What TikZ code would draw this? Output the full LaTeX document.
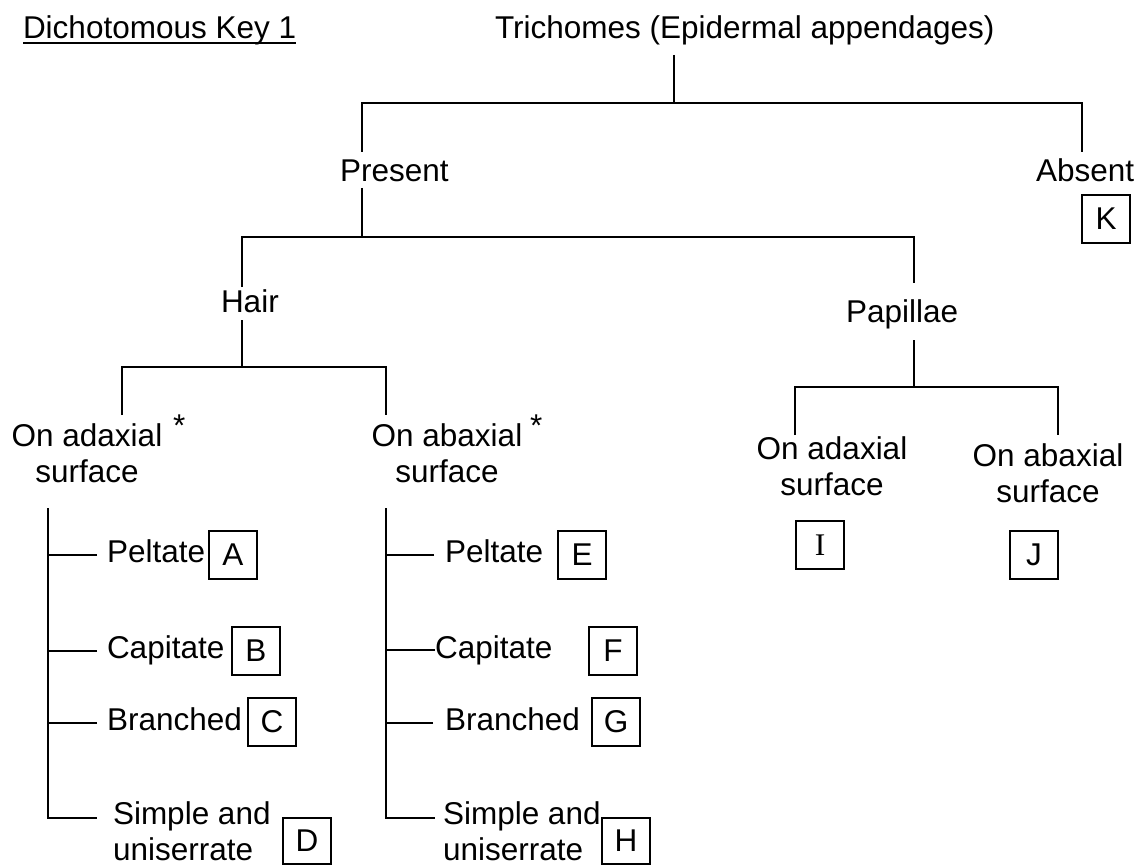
\documentclass[tikz,border=0pt]{standalone}
\usepackage{fontspec}
\setmainfont{Liberation Sans}
\newfontfamily\romankey{Liberation Serif}
\newcommand\keyfont{\fontsize{15.75}{18}\selectfont}

\begin{document}
\begin{tikzpicture}[
  x=0.5pt, y=-0.5pt,
  every node/.style={font=\keyfont, inner sep=0pt, outer sep=0pt},
  key text/.style={anchor=base west},
  key pair/.style={anchor=base, align=center},
  key list/.style={anchor=base west, align=left},
  key box/.style={draw, line width=0.7pt, anchor=north west,
    minimum width=24pt, minimum height=24pt},
  key line/.style={line width=0.9pt}
]
\useasboundingbox (0,0) rectangle (1139,866);

% headings
\node[key text] (title) at (23,39) {Dichotomous Key 1};
\draw[key line] ([yshift=-2pt]title.base west) -- ([yshift=-2pt]title.base east);
\node[key text] (trichomes) at (495,39) {Trichomes (Epidermal appendages)};

% first split
\node[key text] (present) at (340,182) {Present};
\node[key text] (absent) at (1036,182) {Absent};
\node[key box] (boxK) at (1082,195) {K};

% second split
\node[key text] (hair) at (221,312) {Hair};
\node[key text] (papillae) at (846,322) {Papillae};

% hair and papillae (base = last line)
\node[key pair] (hairAdax) at (87,482) {On adaxial\\surface};
\node[key text] (starL) at (173,436) {*};
\node[key pair] (hairAbax) at (447,482) {On abaxial\\surface};
\node[key text] (starR) at (530,436) {*};
\node[key pair] (papAdax) at (832,495) {On adaxial\\surface};
\node[key pair] (papAbax) at (1048,502) {On abaxial\\surface};
\node[key box] (boxI) at (796,521) {\romankey I};
\node[key box] (boxJ) at (1010,531) {J};

% adaxial hairs
\node[key text] (peltL) at (107,562) {Peltate};
\node[key box] (boxA) at (209,531) {A};
\node[key text] (capL) at (107,658) {Capitate};
\node[key box] (boxB) at (232,627) {B};
\node[key text] (branchL) at (107,730) {Branched};
\node[key box] (boxC) at (248,698) {C};
\node[key list] (simpleL) at (113,860) {Simple and\\uniserrate};
\node[key box, minimum height=23pt] (boxD) at (283,818) {D};

% abaxial hairs
\node[key text] (peltR) at (445,562) {Peltate};
\node[key box] (boxE) at (558,531) {E};
\node[key text] (capR) at (435,658) {Capitate};
\node[key box] (boxF) at (589,627) {F};
\node[key text] (branchR) at (445,730) {Branched};
\node[key box] (boxG) at (592,698) {G};
\node[key list] (simpleR) at (443,860) {Simple and\\uniserrate};
\node[key box, minimum height=23pt] (boxH) at (602,818) {H};

% branch points
\coordinate (trichStem) at (674,55);
\coordinate (trichFork) at (674,103);
\coordinate (presentTop) at (362,152);
\coordinate (absentTop) at (1082,152);
\coordinate (presentStem) at (362,188);
\coordinate (presentFork) at (362,237);
\coordinate (hairTop) at (242,287);
\coordinate (papillaeTop) at (914,283);
\coordinate (hairStem) at (242,320);
\coordinate (hairFork) at (242,367);
\coordinate (hairAdaxTop) at (122,415);
\coordinate (hairAbaxTop) at (386,415);
\coordinate (papStem) at (914,340);
\coordinate (papFork) at (914,387);
\coordinate (papAdaxTop) at (795,435);
\coordinate (papAbaxTop) at (1058,435);
\coordinate (adaxCol) at (48,508);
\coordinate (abaxCol) at (386,508);

% tree
\draw[key line] (trichStem) -- (trichFork);
\draw[key line] (presentTop) |- (trichFork) -| (absentTop);
\draw[key line] (presentStem) -- (presentFork);
\draw[key line] (hairTop) |- (presentFork) -| (papillaeTop);
\draw[key line] (hairStem) -- (hairFork);
\draw[key line] (hairAdaxTop) |- (hairFork) -| (hairAbaxTop);
\draw[key line] (papStem) -- (papFork);
\draw[key line] (papAdaxTop) |- (papFork) -| (papAbaxTop);

% lists
\draw[key line] (adaxCol) |- ([shift={(-8pt,21pt)}]simpleL.base west);
\foreach \n in {peltL,capL,branchL}
  \draw[key line] ([shift={(-5pt,3.5pt)}]\n.base west) -| (adaxCol);
\draw[key line] (abaxCol) |- ([shift={(-4pt,21pt)}]simpleR.base west);
\draw[key line] ([shift={(-5.5pt,3.5pt)}]peltR.base west) -| (abaxCol);
\draw[key line] ([shift={(0pt,4pt)}]capR.base west) -| (abaxCol);
\draw[key line] ([shift={(-6pt,3.5pt)}]branchR.base west) -| (abaxCol);
\end{tikzpicture}
\end{document}
